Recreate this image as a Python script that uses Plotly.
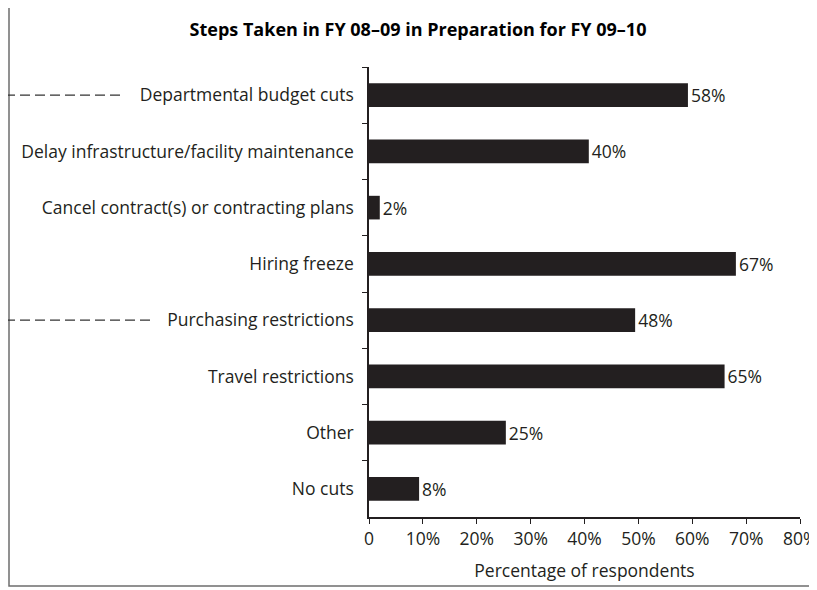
import plotly.graph_objects as go

categories = [
    "Departmental budget cuts",
    "Delay infrastructure/facility maintenance",
    "Cancel contract(s) or contracting plans",
    "Hiring freeze",
    "Purchasing restrictions",
    "Travel restrictions",
    "Other",
    "No cuts",
]
bar_lengths = [59.2, 40.8, 2.0, 68.1, 49.4, 66.0, 25.4, 9.3]
pct_labels = [58, 40, 2, 67, 48, 65, 25, 8]
x_tickvals = [0, 10, 20, 30, 40, 50, 60, 70, 80]
x_ticktext = ["0", "10%", "20%", "30%", "40%", "50%", "60%", "70%", "80%"]
dashed_categories = ["Departmental budget cuts", "Purchasing restrictions"]

# the page places the figure 8px from the top-left corner (default body margin)
OFF = 8
W, H = 817 - OFF, 590 - OFF
ML, MR, MT, MB = 369 - OFF, 17, 67 - OFF, 73
PW, PH = W - ML - MR, H - MT - MB

def px_x(p):
    return (p - OFF - ML) / PW

def px_y(p):
    return (H - MB - (p - OFF)) / PH

FONT = "Open Sans"
FS = 17.5
INK = "#231f20"

fig = go.Figure(go.Bar(
    x=bar_lengths,
    y=categories,
    orientation="h",
    marker=dict(color=INK, line=dict(width=0)),
    width=0.42,
    text=[f"{v}%" for v in pct_labels],
    textposition="outside",
    constraintext="none",
    textfont=dict(family=FONT, size=FS, color=INK),
    cliponaxis=False,
    hoverinfo="skip",
))

shapes = []
# outer frame
shapes.append(dict(type="rect", xref="paper", yref="paper",
                   x0=px_x(9), x1=px_x(840), y0=px_y(586), y1=px_y(7),
                   line=dict(color="#6d6d6d", width=1.5), fillcolor="rgba(0,0,0,0)", layer="below"))
# dashed leader lines
lead_end = {"Departmental budget cuts": 124, "Purchasing restrictions": 153}
for c in dashed_categories:
    shapes.append(dict(type="line", xref="paper", yref="y",
                       x0=px_x(-10), x1=px_x(lead_end[c]), y0=c, y1=c,
                       line=dict(color="#333333", width=1.2, dash="10px,5px")))

# last tick label runs past the right edge (as in the reference); draw it as an annotation
annotations = [dict(xref="x", yref="paper", x=x_tickvals[-1], y=px_y(538),
                    text=x_ticktext[-1], showarrow=False, xanchor="center", yanchor="middle",
                    borderpad=0, font=dict(family=FONT, size=FS, color=INK))]
shown_ticktext = x_ticktext[:-1] + [""]

fig.update_layout(
    width=W, height=H,
    margin=dict(l=ML, r=MR, t=MT, b=MB, autoexpand=False),
    paper_bgcolor="white", plot_bgcolor="white",
    showlegend=False,
    bargap=0.58,
    title=dict(text="<b>Steps Taken in FY 08–09 in Preparation for FY 09–10</b>",
               x=(418 - OFF) / W, xanchor="center", y=1 - (30 - OFF) / H, yanchor="middle",
               font=dict(family=FONT, size=18, color="black")),
    font=dict(family=FONT, size=FS, color=INK),
    shapes=shapes,
    annotations=annotations,
)
fig.update_xaxes(
    range=[0, 80], tickvals=x_tickvals, ticktext=shown_ticktext,
    automargin=False,
    showgrid=False, zeroline=False,
    showline=True, linecolor=INK, linewidth=1.5,
    ticks="outside", ticklen=5, tickwidth=1.2, tickcolor=INK,
    tickfont=dict(family=FONT, size=FS, color=INK),
    title=dict(text="Percentage of respondents", standoff=16,
               font=dict(family=FONT, size=FS, color=INK)),
)
fig.update_yaxes(
    categoryorder="array", categoryarray=categories, autorange="reversed",
    automargin=False,
    showgrid=False, zeroline=False,
    showline=True, linecolor=INK, linewidth=1.5,
    ticks="outside", ticklen=5, tickwidth=1.2, tickcolor=INK,
    tickson="boundaries", ticklabelstandoff=10,
    tickfont=dict(family=FONT, size=FS, color=INK),
)

fig.write_html("out.html")
